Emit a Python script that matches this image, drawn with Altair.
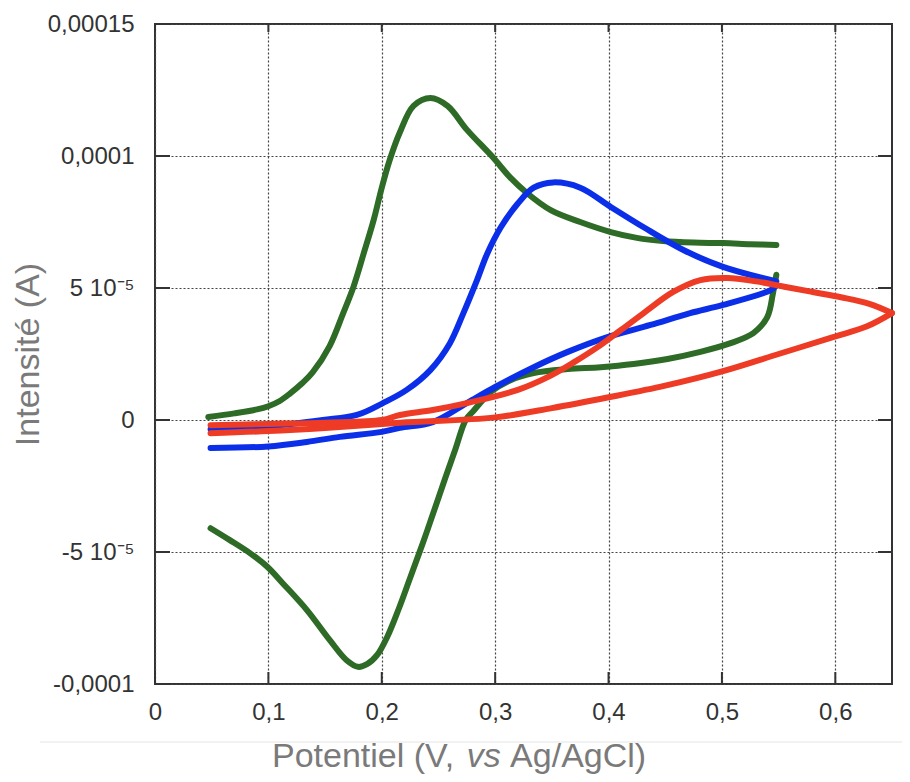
import altair as alt
import pandas as pd

# ---- data (current in units of 1e-5 A, potential in V vs Ag/AgCl) ----
green_fwd_x = [0.047, 0.07, 0.09, 0.1, 0.11, 0.119, 0.13, 0.139, 0.154, 0.166, 0.175, 0.184, 0.193,
               0.2, 0.207, 0.216, 0.228, 0.243, 0.258, 0.275, 0.298, 0.313, 0.328, 0.349, 0.375,
               0.402, 0.425, 0.448, 0.475, 0.501, 0.525, 0.548]
green_fwd_y = [0.11, 0.25, 0.4, 0.52, 0.72, 1.0, 1.4, 1.8, 2.8, 4.05, 5.04, 6.3, 7.6,
               8.8, 9.85, 10.9, 11.9, 12.2, 11.9, 11.0, 9.95, 9.2, 8.6, 7.95, 7.5,
               7.12, 6.9, 6.78, 6.72, 6.7, 6.66, 6.63]
green_rev_x = [0.548, 0.545, 0.54, 0.528, 0.507, 0.481, 0.452, 0.422, 0.393, 0.364, 0.334, 0.313,
               0.296, 0.289, 0.281, 0.274, 0.265, 0.256, 0.248, 0.24, 0.2325, 0.224, 0.215, 0.205,
               0.196, 0.187, 0.179, 0.169, 0.154, 0.134, 0.113, 0.099, 0.084, 0.066, 0.049]
green_rev_y = [5.5, 4.8, 3.9, 3.3, 2.9, 2.58, 2.31, 2.12, 2.0, 1.93, 1.78, 1.5,
               1.06, 0.75, 0.35, 0.0, -1.1, -2.2, -3.2, -4.2, -5.1, -6.1, -7.15, -8.2,
               -8.9, -9.25, -9.35, -9.1, -8.33, -7.2, -6.2, -5.56, -5.05, -4.55, -4.1]

blue_fwd_x = [0.049, 0.08, 0.12, 0.148, 0.178, 0.201, 0.222, 0.243, 0.26, 0.272, 0.284, 0.293,
              0.305, 0.32, 0.334, 0.351, 0.375, 0.402, 0.431, 0.466, 0.501, 0.548]
blue_fwd_y = [-0.35, -0.3, -0.15, 0.0, 0.19, 0.64, 1.14, 1.9, 2.9, 4.05, 5.3, 6.3,
              7.3, 8.2, 8.8, 9.0, 8.8, 8.07, 7.3, 6.44, 5.8, 5.25]
blue_rev_x = [0.548, 0.543, 0.501, 0.472, 0.437, 0.399, 0.364, 0.334, 0.3, 0.275, 0.245, 0.216,
              0.2, 0.163, 0.134, 0.1, 0.049]
blue_rev_y = [5.1, 4.92, 4.36, 4.05, 3.6, 3.14, 2.58, 2.0, 1.25, 0.64, -0.08, -0.3,
              -0.45, -0.64, -0.83, -1.0, -1.06]

red_fwd_x = [0.049, 0.1, 0.15, 0.216, 0.3, 0.35, 0.399, 0.45, 0.501, 0.55, 0.598, 0.628, 0.65]
red_fwd_y = [-0.5, -0.42, -0.3, -0.1, 0.1, 0.45, 0.85, 1.3, 1.85, 2.5, 3.14, 3.55, 4.05]
red_rev_x = [0.65, 0.63, 0.605, 0.58, 0.555, 0.53, 0.505, 0.481, 0.457, 0.431, 0.41, 0.39,
             0.37, 0.349, 0.32, 0.275, 0.245, 0.216, 0.2, 0.15, 0.1, 0.049]
red_rev_y = [4.05, 4.4, 4.65, 4.85, 5.05, 5.25, 5.38, 5.3, 4.85, 4.05, 3.38, 2.75,
             2.2, 1.68, 1.14, 0.64, 0.38, 0.19, 0.0, -0.1, -0.15, -0.2]

x_ticks = [0, 0.1, 0.2, 0.3, 0.4, 0.5, 0.6]
y_ticks = [-10, -5, 0, 5, 10, 15]
y_tick_labels = ["-0,0001", "-5 10\u207b\u2075", "0", "5 10\u207b\u2075", "0,0001", "0,00015"]

x_title_parts = ["Potentiel (V,", "vs", "Ag/AgCl)"]
x_title_styles = ["normal", "italic", "normal"]
y_title = "Intensité (A)"

series_names = ["green", "blue", "red"]
series_colors = ["#2e6b26", "#0b2fe8", "#ee3b25"]

# ---- build table ----
rows = []
segments = [
    ("green", "g1", green_fwd_x, green_fwd_y),
    ("green", "g2", green_rev_x, green_rev_y),
    ("blue", "b1", blue_fwd_x, blue_fwd_y),
    ("blue", "b2", blue_rev_x, blue_rev_y),
    ("red", "r1", red_fwd_x, red_fwd_y),
    ("red", "r2", red_rev_x, red_rev_y),
]
for s, seg, xs, ys in segments:
    for i, (xv, yv) in enumerate(zip(xs, ys)):
        rows.append({"series": s, "seg": seg, "i": i, "E": xv, "I": yv})
df = pd.DataFrame(rows)

W, H = 737, 660
FONT = "Liberation Sans"
TITLE_SIZE = 34
TITLE_COLOR = "#7a7a7a"

ylabel_expr = " : ".join(
    f"datum.value == {v} ? '{t}'" for v, t in zip(y_ticks[:-1], y_tick_labels[:-1])
) + f" : '{y_tick_labels[-1]}'"

xscale = alt.Scale(domain=[0, 0.65], nice=False, zero=False)
yscale = alt.Scale(domain=[-10, 15], nice=False, zero=False)

lines = alt.Chart(df).mark_line(strokeWidth=6, strokeCap="round", strokeJoin="round",
                                interpolate="catmull-rom").encode(
    x=alt.X("E:Q", scale=xscale,
            axis=alt.Axis(values=x_ticks, ticks=False, domain=False, grid=True,
                          gridDash=[2, 2], gridColor="#444", gridWidth=1.2,
                          labelExpr="datum.value == 0 ? '0' : replace(format(datum.value, '.1f'), '.', ',')",
                          labelFont=FONT, labelFontSize=24, labelColor="#333",
                          labelPadding=16, labelFlush=False, title=None)),
    y=alt.Y("I:Q", scale=yscale,
            axis=alt.Axis(values=y_ticks, ticks=False, domain=False, grid=True,
                          gridDash=[2, 2], gridColor="#444", gridWidth=1.2,
                          labelExpr=ylabel_expr,
                          labelFont=FONT, labelFontSize=24, labelColor="#333",
                          labelPadding=21, labelFlush=False,
                          title=y_title, titleFont=FONT, titleFontSize=TITLE_SIZE,
                          titleFontWeight="normal", titleColor=TITLE_COLOR,
                          titleX=-117, titleY=H / 2, titleAngle=-90, titleAlign="center",
                          titleBaseline="alphabetic")),
    color=alt.Color("series:N", scale=alt.Scale(domain=series_names, range=series_colors),
                    legend=None),
    detail="seg:N",
    order="i:Q",
)

xt = pd.DataFrame({"v": x_ticks})
yt = pd.DataFrame({"v": y_ticks})
tick_style = dict(color="#333", strokeWidth=2)

xt_bottom = alt.Chart(xt).mark_rule(**tick_style).encode(
    x=alt.X("v:Q", scale=xscale), y=alt.value(H - 12), y2=alt.value(H))
xt_top = alt.Chart(xt).mark_rule(**tick_style).encode(
    x=alt.X("v:Q", scale=xscale), y=alt.value(0), y2=alt.value(8))
yt_left = alt.Chart(yt).mark_rule(**tick_style).encode(
    y=alt.Y("v:Q", scale=yscale), x=alt.value(0), x2=alt.value(15))
yt_right = alt.Chart(yt).mark_rule(**tick_style).encode(
    y=alt.Y("v:Q", scale=yscale), x=alt.value(W - 14), x2=alt.value(W))

one = pd.DataFrame({"a": [0]})
sep = alt.Chart(one).mark_rule(color="#e4e4e4", strokeWidth=1).encode(
    x=alt.value(-115), x2=alt.value(755), y=alt.value(718))

# x-axis title in three runs so that "vs" can be italic (Arial/Liberation metrics, in em)
run_offsets_em = [0.0, 5.725, 7.003]
x0 = 117
title_layers = []
for part, style, off in zip(x_title_parts, x_title_styles, run_offsets_em):
    title_layers.append(
        alt.Chart(one).mark_text(text=part, font=FONT, fontSize=TITLE_SIZE, fontStyle=style,
                                 color=TITLE_COLOR, align="left", baseline="alphabetic")
        .encode(x=alt.value(x0 + off * TITLE_SIZE), y=alt.value(743))
    )

chart = alt.layer(sep, lines, xt_bottom, xt_top, yt_left, yt_right, *title_layers).properties(
    width=W, height=H,
    autosize=alt.AutoSizeParams(type="none"),
    padding={"left": 147, "top": 16, "right": 10, "bottom": 90},
    background="white",
).configure_view(stroke="#333", strokeWidth=2)

chart.save("out.html", embed_options={"renderer": "svg", "actions": False})
